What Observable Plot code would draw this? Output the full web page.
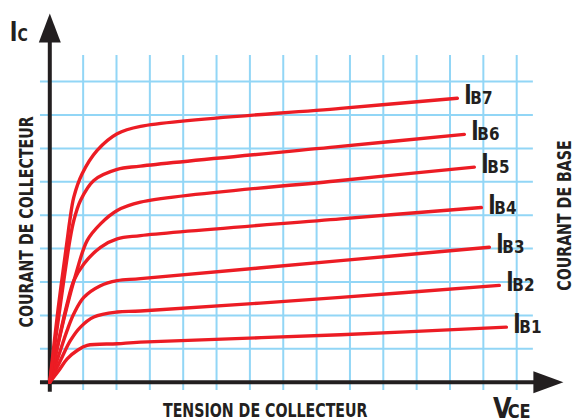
<!DOCTYPE html>
<html><head><meta charset="utf-8">
<script src="https://cdn.jsdelivr.net/npm/d3@7"></script>
<script src="https://cdn.jsdelivr.net/npm/@observablehq/plot@0.6"></script>
<style>body{margin:0;background:#fff;} svg{display:block;}</style>
</head><body><div id="chart"></div>
<script>
// Curve names (base current) and the Ic(Vce) points (grid units)
const seriesNames = ["B1", "B2", "B3", "B4", "B5", "B6", "B7"];
const ib1 = [[0,0],[0.27,0.35],[0.52,0.70],[0.82,0.95],[1.12,1.10],[2.02,1.15],[2.72,1.20],[8.72,1.42],[13.69,1.65]];
const ib2 = [[0,0],[0.32,0.65],[0.62,1.25],[0.92,1.65],[1.32,1.95],[2.02,2.10],[2.72,2.13],[8.72,2.54],[13.48,2.90]];
const ib3 = [[0,0],[0.25,0.75],[0.52,1.55],[0.72,2.05],[1.02,2.54],[1.52,2.89],[2.02,3.04],[2.72,3.10],[8.72,3.64],[13.18,4.04]];
const ib4 = [[0,0],[0.30,1.40],[0.52,2.35],[0.72,3.04],[1.02,3.54],[1.52,4.04],[2.02,4.29],[2.72,4.39],[8.72,4.89],[12.94,5.23]];
const ib5 = [[0,0],[0.45,2.00],[0.80,3.30],[1.12,4.24],[1.52,4.74],[2.02,5.14],[2.72,5.39],[8.72,6.04],[12.73,6.44]];
const ib6 = [[0,0],[0.30,2.20],[0.60,4.24],[0.72,4.84],[0.92,5.44],[1.32,6.04],[2.02,6.37],[2.72,6.47],[8.72,7.06],[12.43,7.42]];
const ib7 = [[0,0],[0.25,2.20],[0.52,4.24],[0.60,4.84],[0.72,5.54],[0.97,6.24],[1.42,6.94],[2.02,7.44],[2.72,7.66],[8.72,8.20],[12.22,8.50]];
const curves = [ib1, ib2, ib3, ib4, ib5, ib6, ib7];

// Grid lines (grid units)
const gridV = [1,2,3,4,5,6,7,8,9,10,11,12,13,14];
const gridH = [1,2,3,4,5,6,7,8,9];

const RED = "#ec1c24", BLUE = "#92d6f6", BLACK = "#231f20";
const FONT = "'Liberation Sans Narrow','DejaVu Sans Condensed','Roboto Condensed',sans-serif";

const table = curves.flatMap((pts, i) => pts.map(([x, y]) => ({series: seriesNames[i], x, y})));
const ends = curves.map((pts, i) => ({series: seriesNames[i], x: pts[pts.length-1][0], y: pts[pts.length-1][1]}));

const xHead = [[14.5, 0.33],[15.4, 0],[14.5, -0.33]].map(([x,y]) => ({x, y}));
const yHead = [[-0.33, 10.17],[0, 11.04],[0.33, 10.17]].map(([x,y]) => ({x, y}));

const chart = Plot.plot({
  width: 573,
  height: 419,
  margin: 0,
  style: {fontFamily: FONT, background: "#fff", overflow: "visible"},
  x: {domain: [0, 15], range: [49.3, 549.55], axis: null},
  y: {domain: [0, 11], range: [381.7, 14.3], axis: null},
  marks: [
    Plot.ruleX(gridV, {x: d => d, y1: -0.25, y2: 9.78, stroke: BLUE, strokeWidth: 2}),
    Plot.ruleY(gridH, {y: d => d, x1: -0.28, x2: 14.5, stroke: BLUE, strokeWidth: 2}),
    Plot.ruleY([0], {x1: -0.28, x2: 14.7, stroke: BLACK, strokeWidth: 4}),
    Plot.ruleX([0], {y1: -0.3, y2: 10.3, stroke: BLACK, strokeWidth: 4}),
    Plot.line(xHead, {x: "x", y: "y", fill: BLACK, stroke: "none"}),
    Plot.line(yHead, {x: "x", y: "y", fill: BLACK, stroke: "none"}),
    Plot.line(table, {x: "x", y: "y", z: "series", stroke: RED, strokeWidth: 3.4, curve: "catmull-rom", strokeLinecap: "round"}),
    // curve labels: big "I" + smaller subscript
    Plot.text(ends, {x: "x", y: "y", text: () => "I", dx: 7, dy: 6, textAnchor: "start", lineAnchor: "bottom", fontSize: 26, fontWeight: "bold", fill: BLACK}),
    Plot.text(ends, {x: "x", y: "y", text: "series", dx: 13, dy: 6, textAnchor: "start", lineAnchor: "bottom", fontSize: 18.4, fontWeight: "bold", fill: BLACK}),
    // axis titles
    Plot.text(["I"], {x: -1.2, y: 10.21, text: d => d, textAnchor: "start", lineAnchor: "bottom", fontSize: 27, fontWeight: "bold", fill: BLACK}),
    Plot.text(["C"], {x: -0.97, y: 10.21, text: d => d, textAnchor: "start", lineAnchor: "bottom", fontSize: 17, fontWeight: "bold", fill: BLACK}),
    Plot.text(["V"], {x: 13.29, y: -1.07, text: d => d, textAnchor: "start", lineAnchor: "bottom", fontSize: 29, fontWeight: "bold", fill: BLACK}),
    Plot.text(["CE"], {x: 13.73, y: -1.07, text: d => d, textAnchor: "start", lineAnchor: "bottom", fontSize: 19.6, fontWeight: "bold", fill: BLACK}),
    Plot.text(["TENSION DE COLLECTEUR"], {x: 6.46, y: -1.03, text: d => d, textAnchor: "middle", lineAnchor: "bottom", fontSize: 19, fontWeight: "bold", fill: BLACK}),
    Plot.text(["COURANT DE COLLECTEUR"], {x: -0.69, y: 4.80, text: d => d, rotate: -90, textAnchor: "middle", lineAnchor: "middle", fontSize: 19, fontWeight: "bold", fill: BLACK}),
    Plot.text(["COURANT DE BASE"], {x: 15.44, y: 4.99, text: d => d, rotate: -90, textAnchor: "middle", lineAnchor: "middle", fontSize: 19, fontWeight: "bold", fill: BLACK})
  ]
});
document.getElementById("chart").append(chart);

// Condense the glyphs horizontally to mimic the reference's condensed bold face
d3.select(chart).selectAll("text").each(function () {
  const s = this.textContent;
  const w = this.getComputedTextLength();
  if (!w) return;
  const k = s.length > 4 ? 0.83 : (s === "I" ? 0.85 : 0.92);
  this.setAttribute("textLength", (w * k).toFixed(2));
  this.setAttribute("lengthAdjust", "spacingAndGlyphs");
});
</script>
</body></html>
